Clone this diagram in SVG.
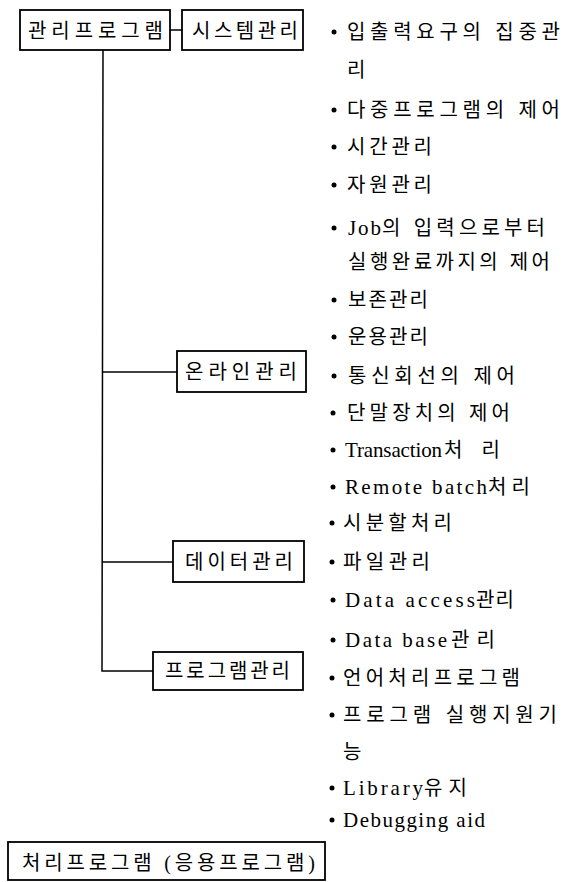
<svg xmlns="http://www.w3.org/2000/svg" width="571" height="882" viewBox="0 0 571 882">
<style>
.box{fill:#fff;stroke:#000;stroke-width:1.8}
.ln{fill:none;stroke:#000;stroke-width:1.5}
text{font-family:"Liberation Serif","Noto Sans CJK KR",serif;fill:#000;font-size:20px}
.lt{font-size:21px}
.bl{fill:#000}
</style>
<rect width="571" height="882" fill="#fff"/>
<g id="connectors">
<line class="ln" x1="170" y1="30" x2="182" y2="30"/>
<path class="ln" d="M103,50 L102,671 L153,671"/>
<line class="ln" x1="102.5" y1="372" x2="177" y2="372"/>
<line class="ln" x1="102" y1="562" x2="173" y2="562"/>
</g>
<g id="n-kwanri">
<rect class="box" x="20" y="10" width="150" height="40"/>
<text x="28" y="37.5" textLength="135" lengthAdjust="spacing">관리프로그램</text>
</g>
<g id="n-system">
<rect class="box" x="182" y="10" width="121" height="40"/>
<text x="192" y="37.5" textLength="106" lengthAdjust="spacing">시스템관리</text>
</g>
<g id="n-online">
<rect class="box" x="177" y="351" width="129" height="41"/>
<text x="185" y="379" textLength="112" lengthAdjust="spacing">온라인관리</text>
</g>
<g id="n-data">
<rect class="box" x="173" y="541" width="131" height="41"/>
<text x="185" y="569" textLength="108" lengthAdjust="spacing">데이터관리</text>
</g>
<g id="n-program">
<rect class="box" x="153" y="652" width="150" height="38"/>
<text x="165" y="678" textLength="125" lengthAdjust="spacing">프로그램관리</text>
</g>
<g id="n-process">
<rect class="box" x="8" y="842" width="317" height="38"/>
<text x="22" y="870" textLength="293" lengthAdjust="spacing">처리프로그램 (응용프로그램)</text>
</g>
<g id="n-system-items">
<circle class="bl" cx="334" cy="32" r="2.5"/>
<text x="347" y="39" textLength="213" lengthAdjust="spacing">입출력요구의 집중관</text>
<text x="347" y="77">리</text>
<circle class="bl" cx="334" cy="110" r="2.5"/>
<text x="347" y="117" textLength="213" lengthAdjust="spacing">다중프로그램의 제어</text>
<circle class="bl" cx="334" cy="147" r="2.5"/>
<text x="347" y="154" textLength="85" lengthAdjust="spacing">시간관리</text>
<circle class="bl" cx="334" cy="185" r="2.5"/>
<text x="347" y="192" textLength="85" lengthAdjust="spacing">자원관리</text>
<circle class="bl" cx="334" cy="228" r="2.5"/>
<text x="348" y="235"><tspan class="lt" textLength="33" lengthAdjust="spacing">Job</tspan><tspan x="382" textLength="163" lengthAdjust="spacing">의 입력으로부터</tspan></text>
<text x="348" y="269" textLength="202" lengthAdjust="spacing">실행완료까지의 제어</text>
<circle class="bl" cx="334" cy="300" r="2.5"/>
<text x="348" y="307" textLength="80" lengthAdjust="spacing">보존관리</text>
<circle class="bl" cx="334" cy="337" r="2.5"/>
<text x="348" y="344" textLength="80" lengthAdjust="spacing">운용관리</text>
</g>
<g id="n-online-items">
<circle class="bl" cx="334" cy="376" r="2.5"/>
<text x="348" y="383" textLength="167" lengthAdjust="spacing">통신회선의 제어</text>
<circle class="bl" cx="333" cy="413" r="2.5"/>
<text x="347" y="420" textLength="163" lengthAdjust="spacing">단말장치의 제어</text>
<circle class="bl" cx="333" cy="450" r="2.5"/>
<text x="345" y="457"><tspan class="lt" textLength="97" lengthAdjust="spacing">Transaction</tspan><tspan x="444" textLength="56" lengthAdjust="spacing">처리</tspan></text>
<circle class="bl" cx="333" cy="487" r="2.5"/>
<text x="345" y="494"><tspan class="lt" textLength="142" lengthAdjust="spacing">Remote batch</tspan><tspan x="488" textLength="42" lengthAdjust="spacing">처리</tspan></text>
<circle class="bl" cx="332" cy="523" r="2.5"/>
<text x="343" y="530" textLength="109" lengthAdjust="spacing">시분할처리</text>
</g>
<g id="n-data-items">
<circle class="bl" cx="332" cy="562" r="2.5"/>
<text x="343" y="569" textLength="87" lengthAdjust="spacing">파일관리</text>
<circle class="bl" cx="333" cy="600" r="2.5"/>
<text x="345" y="607"><tspan class="lt" textLength="130" lengthAdjust="spacing">Data access</tspan><tspan x="476" textLength="38" lengthAdjust="spacing">관리</tspan></text>
<circle class="bl" cx="333" cy="640" r="2.5"/>
<text x="345" y="647"><tspan class="lt" textLength="102" lengthAdjust="spacing">Data base</tspan><tspan x="451" textLength="44" lengthAdjust="spacing">관리</tspan></text>
</g>
<g id="n-program-items">
<circle class="bl" cx="332" cy="678" r="2.5"/>
<text x="343" y="685" textLength="177" lengthAdjust="spacing">언어처리프로그램</text>
<circle class="bl" cx="332" cy="715" r="2.5"/>
<text x="343" y="722" textLength="214" lengthAdjust="spacing">프로그램 실행지원기</text>
<text x="343" y="759">능</text>
<circle class="bl" cx="332" cy="788" r="2.5"/>
<text x="343" y="795"><tspan class="lt" textLength="80" lengthAdjust="spacing">Library</tspan><tspan x="424" textLength="43" lengthAdjust="spacing">유지</tspan></text>
<circle class="bl" cx="332" cy="820" r="2.5"/>
<text class="lt" x="343" y="827" textLength="142" lengthAdjust="spacing">Debugging aid</text>
</g>
</svg>
